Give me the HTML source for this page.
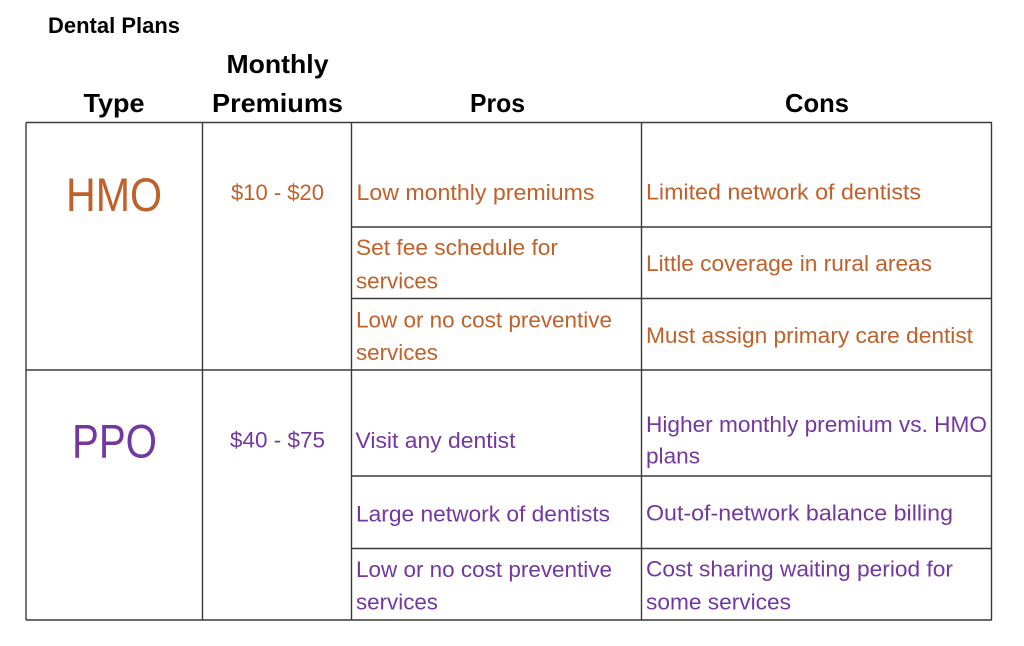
<!DOCTYPE html>
<html>
<head>
<meta charset="utf-8">
<style>
  html, body { margin:0; padding:0; background:#ffffff; }
  body { width:1024px; height:646px; overflow:hidden; }
  svg { display:block; }
  .h { font-family:"Liberation Sans", sans-serif; font-weight:bold; fill:#000; }
  .t { font-family:"Liberation Sans", sans-serif; font-size:22.5px; }
  .big { font-family:"Liberation Sans", sans-serif; }
  .o { fill:#C0602A; }
  .p { fill:#7238A0; }
</style>
</head>
<body>
<svg width="1024" height="646" viewBox="0 0 1024 646" xmlns="http://www.w3.org/2000/svg">
  <rect width="1024" height="646" fill="#fff"/>

  <!-- Headers -->
  <text class="h" x="48" y="33" style="font-size:22px" textLength="132" lengthAdjust="spacingAndGlyphs">Dental Plans</text>
  <text class="h" x="226.5" y="73" style="font-size:26px" textLength="102" lengthAdjust="spacingAndGlyphs">Monthly</text>
  <text class="h" x="212" y="112" style="font-size:26px" textLength="131" lengthAdjust="spacingAndGlyphs">Premiums</text>
  <text class="h" x="83.5" y="112" style="font-size:26px" textLength="61" lengthAdjust="spacingAndGlyphs">Type</text>
  <text class="h" x="470" y="112" style="font-size:26px" textLength="55" lengthAdjust="spacingAndGlyphs">Pros</text>
  <text class="h" x="785" y="112" style="font-size:26px" textLength="64" lengthAdjust="spacingAndGlyphs">Cons</text>

  <!-- Grid lines -->
  <g stroke="#3a3a3a" stroke-width="1.4" fill="none">
    <line x1="26" y1="122.5" x2="992" y2="122.5"/>
    <line x1="26" y1="370" x2="992" y2="370"/>
    <line x1="26" y1="620" x2="992" y2="620"/>
    <line x1="351.5" y1="227" x2="992" y2="227"/>
    <line x1="351.5" y1="298.5" x2="992" y2="298.5"/>
    <line x1="351.5" y1="476" x2="992" y2="476"/>
    <line x1="351.5" y1="548.5" x2="992" y2="548.5"/>
    <line x1="26" y1="122.5" x2="26" y2="620"/>
    <line x1="202.5" y1="122.5" x2="202.5" y2="620"/>
    <line x1="351.5" y1="122.5" x2="351.5" y2="620"/>
    <line x1="641.5" y1="122.5" x2="641.5" y2="620"/>
    <line x1="991.5" y1="122.5" x2="991.5" y2="620"/>
  </g>

  <!-- HMO block -->
  <text class="big o" x="66" y="211" style="font-size:47px" textLength="96" lengthAdjust="spacingAndGlyphs">HMO</text>
  <text class="t o" x="231" y="200" textLength="93" lengthAdjust="spacingAndGlyphs">$10 - $20</text>

  <text class="t o" x="356.5" y="200" textLength="238" lengthAdjust="spacingAndGlyphs">Low monthly premiums</text>
  <text class="t o" x="646" y="199.5" textLength="275" lengthAdjust="spacingAndGlyphs">Limited network of dentists</text>

  <text class="t o" x="356" y="255" textLength="202" lengthAdjust="spacingAndGlyphs">Set fee schedule for</text>
  <text class="t o" x="356" y="288.3" textLength="82" lengthAdjust="spacingAndGlyphs">services</text>
  <text class="t o" x="646" y="271" textLength="286" lengthAdjust="spacingAndGlyphs">Little coverage in rural areas</text>

  <text class="t o" x="356" y="327.7" textLength="256" lengthAdjust="spacingAndGlyphs">Low or no cost preventive</text>
  <text class="t o" x="356" y="360" textLength="82" lengthAdjust="spacingAndGlyphs">services</text>
  <text class="t o" x="646" y="343" textLength="327" lengthAdjust="spacingAndGlyphs">Must assign primary care dentist</text>

  <!-- PPO block -->
  <text class="big p" x="72" y="457.5" style="font-size:47px" textLength="85" lengthAdjust="spacingAndGlyphs">PPO</text>
  <text class="t p" x="230" y="447.5" textLength="95" lengthAdjust="spacingAndGlyphs">$40 - $75</text>

  <text class="t p" x="355.5" y="448" textLength="160" lengthAdjust="spacingAndGlyphs">Visit any dentist</text>
  <text class="t p" x="646" y="432" textLength="341" lengthAdjust="spacingAndGlyphs">Higher monthly premium vs. HMO</text>
  <text class="t p" x="646" y="463.5" textLength="54" lengthAdjust="spacingAndGlyphs">plans</text>

  <text class="t p" x="356" y="521.5" textLength="254" lengthAdjust="spacingAndGlyphs">Large network of dentists</text>
  <text class="t p" x="646" y="520.7" textLength="307" lengthAdjust="spacingAndGlyphs">Out-of-network balance billing</text>

  <text class="t p" x="356" y="577" textLength="256" lengthAdjust="spacingAndGlyphs">Low or no cost preventive</text>
  <text class="t p" x="356" y="609.5" textLength="82" lengthAdjust="spacingAndGlyphs">services</text>
  <text class="t p" x="646" y="576.7" textLength="307" lengthAdjust="spacingAndGlyphs">Cost sharing waiting period for</text>
  <text class="t p" x="646" y="609.3" textLength="145" lengthAdjust="spacingAndGlyphs">some services</text>
</svg>
</body>
</html>
